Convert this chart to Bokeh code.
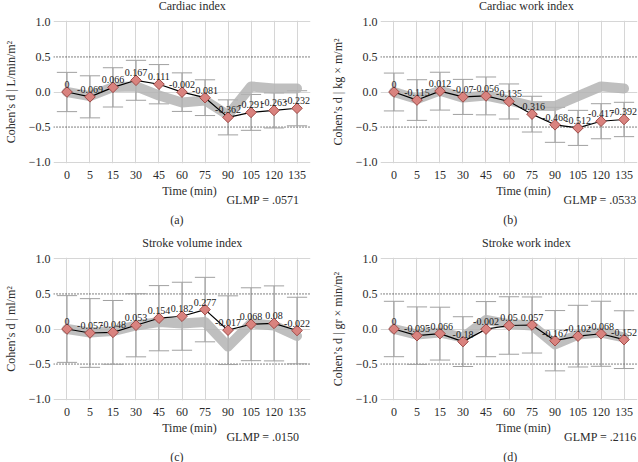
import math
from bokeh.plotting import figure
from bokeh.layouts import column, row
from bokeh.models import Range1d, FixedTicker, Label, Span, ColumnDataSource
from bokeh.embed import file_html
from bokeh.resources import INLINE

# ---------------- data ----------------
times = ["0", "5", "15", "30", "45", "60", "75", "90", "105", "120", "135"]

ci_title = "Cardiac index"
ci_ylabel = "Cohen\u2019s d | L/min/m\u00b2"
ci_mean = [0, -0.069, 0.066, 0.167, 0.111, -0.002, -0.081, -0.362, -0.291, -0.263, -0.232]
ci_err = [0.28, 0.30, 0.28, 0.285, 0.28, 0.275, 0.255, 0.25, 0.256, 0.25, 0.25]
ci_band = [0.0, -0.06, 0.07, 0.08, -0.05, -0.15, -0.12, -0.33, 0.08, 0.05, 0.05]
ci_glmp = "GLMP = .0571"

cwi_title = "Cardiac work index"
cwi_ylabel = "Cohen\u2019s d | kg \u00d7 m/m\u00b2"
cwi_mean = [0, -0.115, 0.012, -0.07, -0.056, -0.135, -0.316, -0.468, -0.512, -0.417, -0.392]
cwi_err = [0.27, 0.29, 0.27, 0.25, 0.27, 0.25, 0.255, 0.25, 0.25, 0.25, 0.245]
cwi_band = [0.0, -0.1, 0.02, -0.08, -0.05, -0.12, -0.2, -0.2, -0.06, 0.08, 0.05]
cwi_glmp = "GLMP = .0533"

svi_title = "Stroke volume index"
svi_ylabel = "Cohen\u2019s d | ml/m\u00b2"
svi_mean = [0, -0.057, -0.048, 0.053, 0.154, 0.182, 0.277, -0.017, 0.068, 0.08, -0.022]
svi_err = [0.476, 0.49, 0.455, 0.45, 0.465, 0.485, 0.46, 0.49, 0.52, 0.535, 0.475]
svi_band = [0.0, -0.05, -0.03, 0.05, 0.1, 0.08, 0.1, -0.25, 0.08, 0.05, -0.1]
svi_glmp = "GLMP = .0150"

swi_title = "Stroke work index"
swi_ylabel = "Cohen\u2019s d | gr \u00d7 min/m\u00b2"
swi_mean = [0, -0.095, -0.066, -0.18, -0.002, 0.05, 0.057, -0.167, -0.102, -0.068, -0.152]
swi_err = [0.395, 0.41, 0.377, 0.355, 0.393, 0.41, 0.4, 0.43, 0.44, 0.464, 0.412]
swi_band = [0.0, -0.08, -0.05, -0.12, 0.13, 0.07, 0.05, -0.22, -0.08, -0.05, -0.12]
swi_glmp = "GLMP = .2116"

x_title = "Time (min)"
letters = ["(a)", "(b)", "(c)", "(d)"]
y_ticks = [-1.0, -0.5, 0.0, 0.5, 1.0]
y_tick_labels = {-1.0: "\u22121.0", -0.5: "\u22120.5", 0.0: "0.0", 0.5: "0.5", 1.0: "1.0"}

FONT = "'Liberation Serif', 'DejaVu Serif', serif"
TXT = "#2b2b2b"

FRAME_L = 43          # left border of every plot frame (px)
FRAME_W = 267         # frame width (px)
HEADER_H = 14
MAIN_H = 170


def fmt(v):
    return "0" if v == 0 else repr(v)


def text_fig(width, height):
    f = figure(width=width, height=height, output_backend="svg", toolbar_location=None,
               x_axis_type=None, y_axis_type=None,
               x_range=Range1d(0, width), y_range=Range1d(height, 0),
               min_border=0, min_border_left=0, min_border_right=0,
               min_border_top=0, min_border_bottom=0,
               background_fill_color="white", border_fill_color="white")
    f.outline_line_color = None
    return f


def lab(x, y, text, align):
    return Label(x=x, y=y, text=text, text_align=align, text_baseline="middle",
                 text_font=FONT, text_font_size="12px", text_color=TXT)


def make_panel(title, ylabel, mean, err, band, glmp, letter, width, height, glmp_right):
    n = len(times)
    idx = list(range(n))
    border_right = width - FRAME_L - FRAME_W

    # ---- header with panel title ----
    head = text_fig(width, HEADER_H)
    head.add_layout(lab(FRAME_L + FRAME_W / 2, 5.5, title, "center"))

    # ---- main plot ----
    p = figure(width=width, height=MAIN_H, output_backend="svg", toolbar_location=None,
               x_range=Range1d(-0.586, 10.586), y_range=Range1d(-1.02, 1.02),
               min_border_left=FRAME_L, min_border_right=border_right,
               min_border_top=6, min_border_bottom=MAIN_H - 6 - 143,
               background_fill_color="white", border_fill_color="white")
    p.outline_line_color = None

    p.xaxis.ticker = FixedTicker(ticks=idx)
    p.xaxis.major_label_overrides = {i: t for i, t in enumerate(times)}
    p.yaxis.ticker = FixedTicker(ticks=y_ticks)
    p.yaxis.major_label_overrides = y_tick_labels
    for ax in (p.xaxis[0], p.yaxis[0]):
        ax.axis_line_color = None
        ax.major_tick_line_color = None
        ax.minor_tick_line_color = None
        ax.major_tick_out = 0
        ax.major_tick_in = 0
        ax.minor_tick_out = 0
        ax.major_label_text_font = FONT
        ax.major_label_text_font_size = "12px"
        ax.major_label_text_color = TXT
        ax.axis_label_text_font = FONT
        ax.axis_label_text_font_size = "12px"
        ax.axis_label_text_font_style = "normal"
        ax.axis_label_text_color = TXT
    p.xaxis.major_label_standoff = 7
    p.yaxis.axis_label = ylabel
    p.yaxis.major_label_standoff = 3
    p.yaxis.axis_label_standoff = 8

    p.xgrid.ticker = FixedTicker(ticks=idx)
    p.ygrid.ticker = FixedTicker(ticks=[-1.0, 0.0, 1.0])
    p.xgrid.grid_line_color = "#d6d6d6"
    p.ygrid.grid_line_color = "#d6d6d6"

    for loc in (0.5, -0.5):
        p.add_layout(Span(location=loc, dimension="width", line_color="black",
                          line_dash="1 2", line_width=1, level="underlay"))

    lo = [m - e for m, e in zip(mean, err)]
    hi = [m + e for m, e in zip(mean, err)]
    src = ColumnDataSource(dict(x=idx, mean=mean, lo=lo, hi=hi, band=band,
                                xl=[i - 0.44 for i in idx], xr=[i + 0.44 for i in idx],
                                lab=[fmt(v) for v in mean]))

    p.segment(x0="x", y0="lo", x1="x", y1="hi", source=src, line_color="#8c8c8c", line_width=1)
    p.segment(x0="xl", y0="hi", x1="xr", y1="hi", source=src, line_color="#a0a0a0", line_width=1)
    p.segment(x0="xl", y0="lo", x1="xr", y1="lo", source=src, line_color="#a0a0a0", line_width=1)

    p.line(x="x", y="band", source=src, line_color="#b4b4b4", line_width=10,
           line_alpha=0.85, line_join="round", line_cap="round")

    p.line(x="x", y="mean", source=src, line_color="black", line_width=1.2)
    p.scatter(x="x", y="mean", source=src, marker="square", size=7.5, angle=math.pi / 4,
              fill_color="#d9837f", line_color="#a04c49", line_width=1)

    p.text(x="x", y="mean", text="lab", source=src, text_align="center",
           text_baseline="bottom", y_offset=-4, text_font_size="10px",
           text_color="#1a1a1a", text_font={"value": FONT})

    # ---- footer: x-axis title, GLMP, panel letter ----
    foot_h = height - HEADER_H - MAIN_H
    foot = text_fig(width, foot_h)
    top = HEADER_H + MAIN_H
    foot.add_layout(lab(FRAME_L + 130, 190 - top, x_title, "center"))
    foot.add_layout(lab(glmp_right, 199 - top, glmp, "right"))
    foot.add_layout(lab(157, 219 - top, letter, "center"))

    return column(head, p, foot, spacing=0)


pa = make_panel(ci_title, ci_ylabel, ci_mean, ci_err, ci_band, ci_glmp, letters[0], 327, 237, 313)
pb = make_panel(cwi_title, cwi_ylabel, cwi_mean, cwi_err, cwi_band, cwi_glmp, letters[1], 311, 237, 310)
pc = make_panel(svi_title, svi_ylabel, svi_mean, svi_err, svi_band, svi_glmp, letters[2], 327, 225, 313)
pd_ = make_panel(swi_title, swi_ylabel, swi_mean, swi_err, swi_band, swi_glmp, letters[3], 311, 225, 310)

layout = column(row(pa, pb, spacing=0), row(pc, pd_, spacing=0), spacing=0)

with open("out.html", "w") as f:
    f.write(file_html(layout, INLINE))
